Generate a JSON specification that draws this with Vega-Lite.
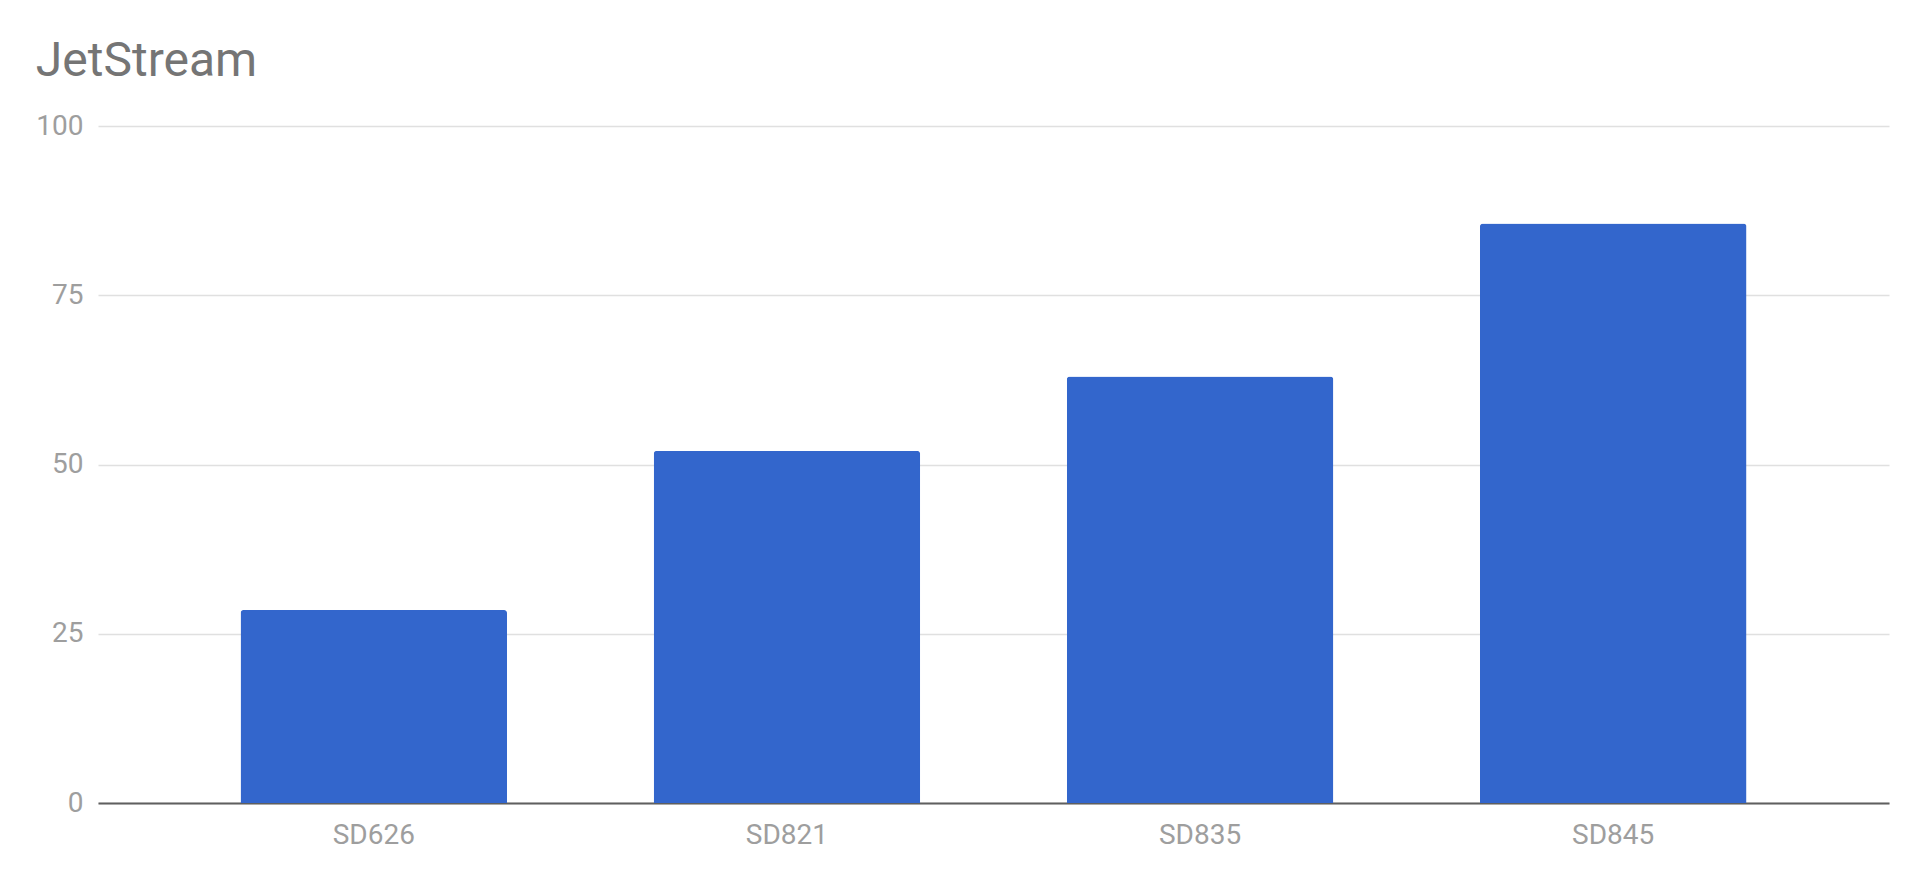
{
  "$schema": "https://vega.github.io/schema/vega-lite/v6.json",
  "width": 1791,
  "height": 677,
  "autosize": {"type": "none"},
  "padding": {"left": 98, "top": 126, "right": 31, "bottom": 78},
  "background": "white",
  "title": {
    "text": "JetStream",
    "anchor": "start",
    "frame": "bounds",
    "font": "Roboto",
    "fontSize": 48,
    "fontWeight": "normal",
    "color": "#757575",
    "offset": 26
  },
  "data": {
    "values": [
      {"chip": "SD626", "score": 28.5},
      {"chip": "SD821", "score": 52},
      {"chip": "SD835", "score": 63},
      {"chip": "SD845", "score": 85.6}
    ]
  },
  "mark": {"type": "bar", "color": "#3366cc", "cornerRadiusTopLeft": 3, "cornerRadiusTopRight": 3},
  "encoding": {
    "x": {
      "field": "chip",
      "type": "nominal",
      "sort": null,
      "scale": {"paddingInner": 0.355, "paddingOuter": 0.345},
      "axis": {
        "title": null,
        "labelAngle": 0,
        "labelFont": "Roboto",
        "labelFontSize": 28,
        "labelColor": "#9e9e9e",
        "labelPadding": 18,
        "ticks": false,
        "domain": true,
        "domainColor": "#5f5f5f",
        "domainWidth": 2,
        "grid": false
      }
    },
    "y": {
      "field": "score",
      "type": "quantitative",
      "scale": {"domain": [0, 100], "nice": false},
      "axis": {
        "title": null,
        "values": [0, 25, 50, 75, 100],
        "labelFont": "Roboto",
        "labelFontSize": 28,
        "labelColor": "#9e9e9e",
        "labelPadding": 15,
        "ticks": false,
        "domain": false,
        "grid": true,
        "gridColor": "#e0e0e0",
        "gridWidth": 1.5
      }
    }
  },
  "config": {"view": {"stroke": null}}
}
